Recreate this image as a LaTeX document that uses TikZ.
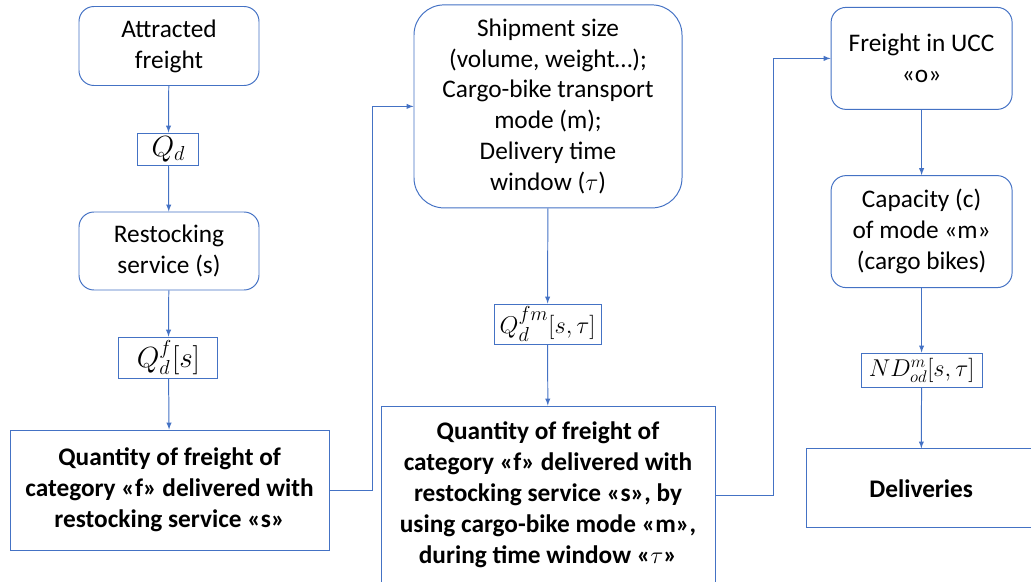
\documentclass[tikz,border=0pt]{standalone}
\usepackage{fontspec}
\setmainfont{Carlito}
\definecolor{offblue}{RGB}{68,114,196}
\begin{document}
\begin{tikzpicture}[>=latex,
        box/.style={draw=offblue,line width=0.7pt,align=center,inner sep=2pt,font=\fontsize{18}{22}\selectfont},
        rbox/.style={box,rounded corners=0.375cm},
        bbox/.style={box,font=\fontsize{18}{22}\selectfont\bfseries},
        var/.style={draw=offblue,line width=0.7pt,inner sep=0.5pt,font=\fontsize{20}{22}\selectfont},
        link/.style={->,draw=offblue,line width=0.7pt}]
        \useasboundingbox (0,0) rectangle (25.775,-14.55);
        \node[rbox,minimum width=4.5cm,minimum height=1.975cm](af)at(4.225,-1.15){Attracted\\freight};
        \node[var,minimum width=1.525cm,minimum height=0.8cm](qd)at(4.21,-3.725){$Q_d$};
        \node[rbox,minimum width=4.5cm,minimum height=1.95cm](rs)at(4.225,-6.275){Restocking\\service (s)};
        \node[var,minimum width=2.475cm,minimum height=1.025cm](qdf)at(4.21,-8.94){$Q_d^f[s]$};
        \node[bbox,minimum width=7.975cm,minimum height=3cm](q1)at(4.24,-12.25)
        {Quantity of freight of\\category «f» delivered with\\restocking service «s»};
        \node[box,rounded corners=0.75cm,minimum width=6.7cm,minimum height=5.075cm](sh)at(13.7,-2.66)
        {Shipment size\\(volume, weight…);\\Cargo-bike transport\\mode (m);\\Delivery time\\window ($\tau$)};
        \node[var,font=\fontsize{19}{22}\selectfont,minimum width=2.675cm,minimum height=1cm](qdfm)at(13.69,-8.1){$Q_d^{fm}[s,\tau]$};
        \node[bbox,minimum width=8.35cm,minimum height=4.45cm](q2)at(13.7,-12.375)
        {Quantity of freight of\\category «f» delivered with\\restocking service «s», by\\using cargo-bike mode «m»,\\during time window «$\tau$»};
        \node[rbox,minimum width=4.525cm,minimum height=2.55cm](ucc)at(23.04,-1.46){Freight in UCC\\«o»};
        \node[rbox,minimum width=4.525cm,minimum height=2.8cm](cap)at(23.04,-5.79){Capacity (c)\\of mode «m»\\(cargo bikes)};
        \node[var,font=\fontsize{18}{22}\selectfont,minimum width=3.025cm,minimum height=0.85cm](nd)at(23.04,-9.25){$ND_{od}^m[s,\tau]$};
        \node[bbox,minimum width=5.75cm,minimum height=1.975cm](del)at(23.03,-12.21){Deliveries};
        \draw[link](af)--(qd);
        \draw[link](qd)--(rs);
        \draw[link](rs)--(qdf);
        \draw[link](qdf)--(q1);
        \draw[link](q1.east)--++(1.075,0)|-(sh.west);
        \draw[link](sh)--(qdfm);
        \draw[link](qdfm)--(q2);
        \draw[link](q2.east)--++(1.45,0)|-(ucc.west);
        \draw[link](ucc)--(cap);
        \draw[link](cap)--(nd);
        \draw[link](nd)--(del);
    \end{tikzpicture}
\end{document}
